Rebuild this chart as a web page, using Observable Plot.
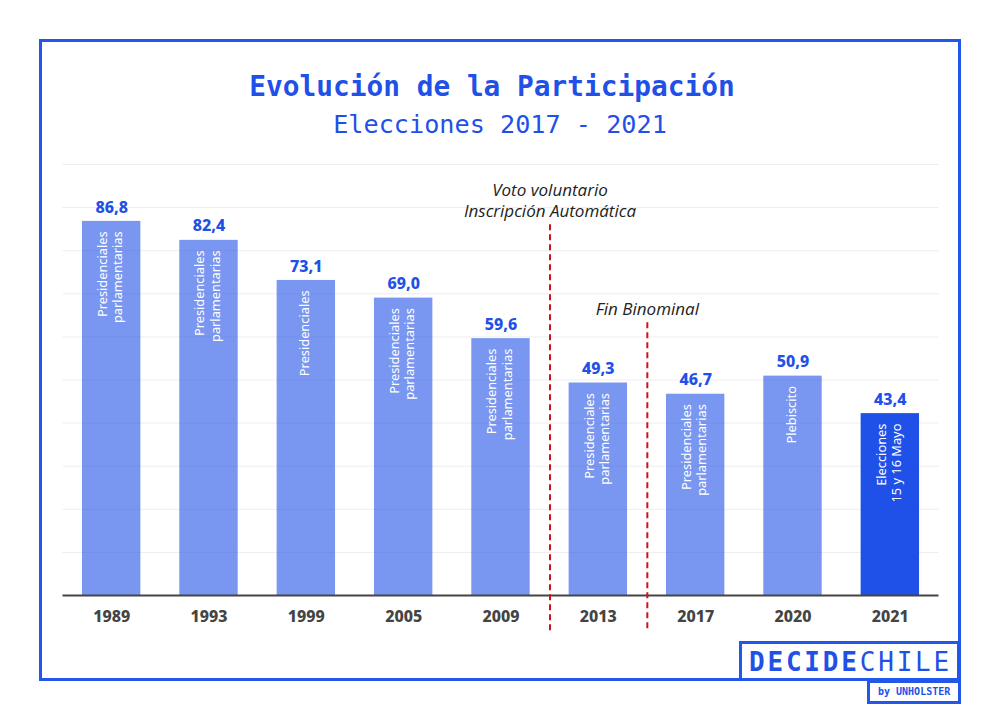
<!DOCTYPE html>
<html lang="es">
<head>
<meta charset="utf-8">
<script src="https://cdn.jsdelivr.net/npm/d3@7"></script>
<script src="https://cdn.jsdelivr.net/npm/@observablehq/plot@0.6"></script>
<style>
  html, body { margin: 0; padding: 0; background: #fff; }
  #page { position: relative; width: 1000px; height: 720px; overflow: hidden; }
  #frame { position: absolute; left: 39px; top: 39px; width: 916px; height: 636px; border: 3px solid #2257ea; }
  #head { position: absolute; left: 0; top: 0; width: 1000px; height: 150px; text-align: center; color: #1f50e8;
          font-family: "DejaVu Sans Mono", monospace; }
  #head h1 { position: absolute; left: -8px; width: 100%; top: 70px; margin: 0; font-size: 27.8px; line-height: 34px; font-weight: 700; }
  #head h2 { position: absolute; left: 0; width: 100%; top: 109px; margin: 0; font-size: 25.2px; line-height: 32px; font-weight: 400; }
  #chart { position: absolute; left: 0; top: 150px; }
  #chart svg { display: block; background: transparent; }
  .logo { position: absolute; background: #fff; border: 3px solid #2257ea; box-sizing: border-box; color: #1f50e8;
          font-family: "DejaVu Sans Mono", monospace; white-space: nowrap; }
  #logo1 { left: 739px; top: 641px; width: 221px; height: 40px; font-size: 26px; line-height: 36px; padding-left: 7px; letter-spacing: 2.8px; }
  #logo1 b { font-weight: 700; }
  #logo2 { left: 867px; top: 680px; width: 94px; height: 24px; font-size: 10px; line-height: 18px; padding-left: 8px; font-weight: 700; }
</style>
</head>
<body>
<div id="page">
  <div id="frame"></div>
  <div id="head">
    <h1>Evolución de la Participación</h1>
    <h2>Elecciones 2017 - 2021</h2>
  </div>
  <div id="chart"></div>
  <div class="logo" id="logo1"><b>DECIDE</b>CHILE</div>
  <div class="logo" id="logo2">by UNHOLSTER</div>
</div>
<script>
const years = ["1989", "1993", "1999", "2005", "2009", "2013", "2017", "2020", "2021"];
const barValues = [86.8, 82.4, 73.1, 69.0, 59.6, 49.3, 46.7, 50.9, 42.2];
const valueLabels = ["86,8", "82,4", "73,1", "69,0", "59,6", "49,3", "46,7", "50,9", "43,4"];
const kinds = [
  "Presidenciales\nparlamentarias",
  "Presidenciales\nparlamentarias",
  "Presidenciales",
  "Presidenciales\nparlamentarias",
  "Presidenciales\nparlamentarias",
  "Presidenciales\nparlamentarias",
  "Presidenciales\nparlamentarias",
  "Plebiscito",
  "Elecciones\n15 y 16 Mayo"
];
const currentYear = "2021";
const gridTicks = [10, 20, 30, 40, 50, 60, 70, 80, 90, 100];

const dividerYears = ["2009", "2013"];
const dividerTops = [86, 63.3];
const dividerBottom = -8.6;
const dividerTexts = ["Voto voluntario\nInscripción Automática", "Fin Binominal"];

const rows = years.map((year, i) => ({year, value: barValues[i], label: valueLabels[i], kind: kinds[i]}));
const dividers = dividerYears.map((year, i) => ({year, top: dividerTops[i], text: dividerTexts[i]}));

const blue = "#1f50e8";
const sans = "'Noto Sans', sans-serif";
const halfStep = 49;

const plot = Plot.plot({
  width: 1000,
  height: 570,
  marginTop: 14,
  marginBottom: 125,
  marginLeft: 62.5,
  marginRight: 61.5,
  style: {background: "transparent"},
  x: {domain: years, paddingInner: 0.4, paddingOuter: 0.2, align: 0.5, round: false, label: null},
  y: {domain: [0, 100], label: null},
  marks: [
    Plot.ruleY(gridTicks, {stroke: "#eeeeee", strokeWidth: 1}),
    Plot.barY(rows, {
      x: "year", y: "value",
      fill: blue,
      fillOpacity: d => d.year === currentYear ? 1 : 0.6
    }),
    Plot.ruleY([0], {stroke: "#444444", strokeWidth: 2}),
    Plot.axisY({ticks: [], label: null, tickSize: 0}),
    Plot.axisX({
      tickSize: 0, tickPadding: 15, label: null,
      fontSize: 16, fontWeight: 800, fill: "#444444", fontFamily: sans
    }),
    Plot.text(rows, {
      x: "year", y: "value",
      text: "label",
      dy: -14, fontSize: 16, fontWeight: 800, fill: blue, fontFamily: sans
    }),
    Plot.text(rows, {
      x: "year", y: "value", text: "kind",
      rotate: -90, textAnchor: "end", dx: -2, dy: 10,
      fontSize: 12.8, lineHeight: 1.22, fill: "#ffffff", fontFamily: sans
    }),
    Plot.ruleX(dividers, {
      x: "year", y1: "top", y2: dividerBottom, dx: halfStep,
      stroke: "#d0111b", strokeWidth: 2, strokeDasharray: "6 4"
    }),
    Plot.text(dividers, {
      x: "year", y: "top", text: "text", dx: halfStep, dy: -8,
      lineAnchor: "bottom", lineHeight: 1.24,
      fontSize: 17, fontStyle: "italic", fill: "#222222", fontFamily: "'Open Sans', sans-serif"
    })
  ]
});
document.getElementById("chart").appendChild(plot);
</script>
</body>
</html>
